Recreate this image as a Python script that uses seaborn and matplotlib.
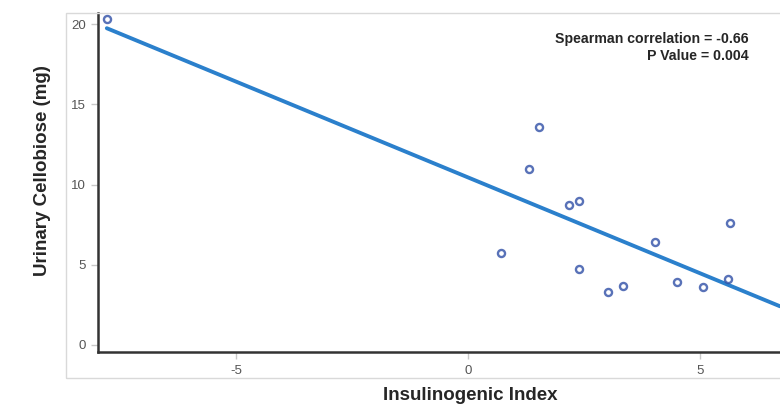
import numpy as np
import pandas as pd
import matplotlib
matplotlib.use("Agg")
import matplotlib.pyplot as plt
import seaborn as sns
from matplotlib.patches import Rectangle

# values
insulinogenic_index = [-7.78, 1.53, 1.31, 2.18, 2.39, 0.71, 2.39, 3.02, 3.34, 4.03, 4.50, 5.06, 5.65, 5.60]
urinary_cellobiose = [20.3, 13.6, 11.0, 8.7, 8.97, 5.73, 4.73, 3.30, 3.68, 6.42, 3.93, 3.61, 7.60, 4.11]
x_ticks = [-5, 0, 5]
y_ticks = [0, 5, 10, 15, 20]
stat_text = "Spearman correlation = -0.66\nP Value = 0.004"

df = pd.DataFrame({"x": insulinogenic_index, "y": urinary_cellobiose})

sns.set_style("white")
plt.rcParams["font.family"] = ["Liberation Sans", "DejaVu Sans"]
plt.rcParams["axes.unicode_minus"] = False

fig = plt.figure(figsize=(7.8, 4.05), dpi=100)
ax = fig.add_axes([98 / 780, 1 - 352 / 405, (780 - 98) / 780, (352 - 13) / 405])

# light gray outer frame
fig.patches.append(Rectangle((66 / 780, 1 - 378 / 405), 1.0, (378 - 13) / 405,
                             transform=fig.transFigure, fill=False,
                             edgecolor="#d9d9d9", linewidth=1.0, zorder=0))

ax.set_xlim(min(insulinogenic_index), 6.72)
sns.regplot(data=df, x="x", y="y", ax=ax, ci=None, truncate=False,
            scatter_kws=dict(s=26, facecolors="white", edgecolors="#2f4fa6", linewidths=1.7, zorder=3),
            line_kws=dict(color="#2b80cc", linewidth=2.8, zorder=2))
ax.set_xlim(-7.97, 6.72)
ax.set_ylim(-0.44, 20.7)

ax.set_xticks(x_ticks)
ax.set_yticks(y_ticks)
ax.tick_params(axis="both", bottom=True, left=True, colors="#c8c8c8", length=5, width=1,
               direction="out", labelcolor="#555555", labelsize=9.5)
ax.tick_params(axis="x", pad=4)

for s in ["top", "right"]:
    ax.spines[s].set_visible(False)
for s in ["left", "bottom"]:
    ax.spines[s].set_color("#333333")
    ax.spines[s].set_linewidth(1.8)

ax.set_xlabel("")
ax.set_ylabel("")
fig.text(43 / 780, 1 - 171 / 405, "Urinary Cellobiose (mg)", ha="center", va="center",
         rotation=90, fontsize=13.5, fontweight="bold")
fig.text(470 / 780, 1 - 395 / 405, "Insulinogenic Index", ha="center", va="center",
         fontsize=13.5, fontweight="bold")

fig.text(749 / 780, 1 - 32 / 405, stat_text, ha="right", va="top",
         fontsize=10.2, fontweight="bold", linespacing=1.3)

fig.savefig("out.png", dpi=100)
